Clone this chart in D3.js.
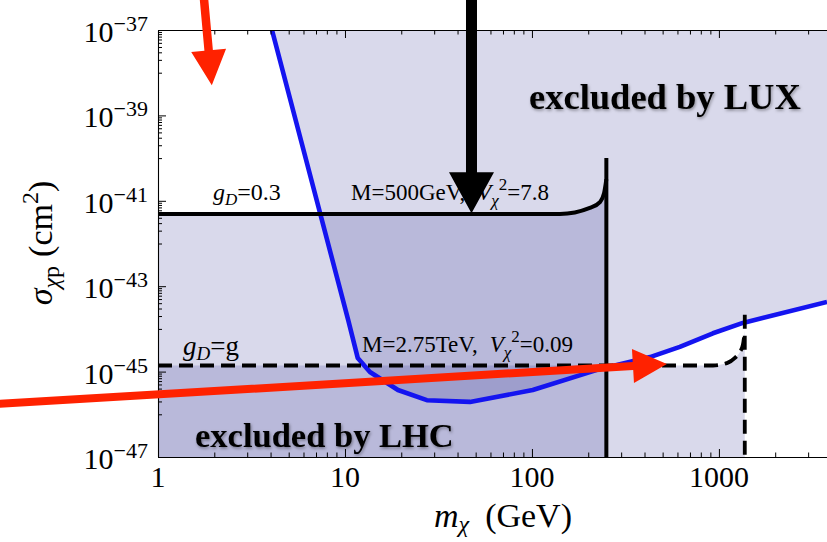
<!DOCTYPE html>
<html>
<head>
<meta charset="utf-8">
<script src="https://cdn.jsdelivr.net/npm/d3@7"></script>
<style>
  html, body { margin: 0; padding: 0; background: #fff; }
  svg { display: block; }
</style>
</head>
<body>
<script>
// ---------------- DATA ----------------
// LUX exclusion limit (blue curve): dark-matter mass (GeV) vs sigma (cm^2)
const luxMass  = [4.07, 10.4, 11.7, 13.6, 19.2, 27.4, 46.6, 101, 223, 428, 618, 929, 1343, 3785];
const luxSigma = [1e-37, 1.62e-44, 2.09e-45, 9.8e-46, 3.7e-46, 2.14e-46, 1.95e-46, 3.7e-46, 1.1e-45, 2.19e-45, 3.8e-45, 7.9e-45, 1.38e-44, 4.27e-44];

// LHC curve, g_D = 0.3, M = 500 GeV (solid)
const lhc1Mass  = [1, 141, 204, 231, 243, 248, 250];
const lhc1Sigma = [4.9e-42, 4.9e-42, 6.8e-42, 9.3e-42, 1.5e-41, 2.5e-41, 3.2e-41];
const lhc1Edge  = { mass: 250, sigmaTop: 1e-40 };

// LHC curve, g_D = g, M = 2.75 TeV (dashed)
const lhc2Mass  = [1, 929, 1104, 1218, 1295, 1343, 1375];
const lhc2Sigma = [1.39e-45, 1.39e-45, 1.58e-45, 2.09e-45, 2.88e-45, 4.2e-45, 9e-45];
const lhc2Edge  = { mass: 1375, sigmaTop: 2.14e-44 };

// axis ticks
const xTickValues = [1, 10, 100, 1000];
const xTickLabels = ["1", "10", "100", "1000"];
const yTickExps   = [-37, -39, -41, -43, -45, -47];
const yTickLabels = ["−37", "−39", "−41", "−43", "−45", "−47"];

// annotation arrows, in data coordinates [mass, sigma]
const arrowTopRed   = { from: [1.76, 5.6e-37], to: [1.94, 5.1e-39] };
const arrowBlack    = { from: [47.5, 5.6e-37], to: [47.5, 5.1e-42] };
const arrowLongRed  = { from: [0.138, 1.74e-46], to: [527, 1.51e-45] };

// ---------------- LAYOUT ----------------
const W = 827, H = 542;
const L = 158, T = 30, B = 457, R = 827;
const serif = "'Liberation Serif', 'Times New Roman', serif";

const x = d3.scaleLog().domain([1, 3785]).range([L, R]);
const y = d3.scaleLog().domain([1e-47, 1e-37]).range([B, T]);

const svg = d3.select("body").append("svg").attr("width", W).attr("height", H);
const defs = svg.append("defs");
defs.append("clipPath").attr("id", "plotclip")
  .append("rect").attr("x", L).attr("y", T).attr("width", R - L).attr("height", B - T);
const f = defs.append("filter").attr("id", "shadow")
  .attr("x", "-10%").attr("y", "-40%").attr("width", "120%").attr("height", "180%");
f.append("feDropShadow").attr("dx", 1).attr("dy", 1.5).attr("stdDeviation", 1.6)
  .attr("flood-color", "#000").attr("flood-opacity", 0.4);

const plot = svg.append("g").attr("clip-path", "url(#plotclip)");

const fillColor = "rgb(18,18,130)";
const fillOpacity = 0.16;

const pts = (ms, ss) => ms.map((m, i) => [x(m), y(ss[i])]);

// LUX region (above blue curve)
const luxPts = pts(luxMass, luxSigma);
const luxPoly = luxPts.concat([[x(luxMass[luxMass.length - 1]), y(1e-37)]]);
plot.append("path")
  .attr("d", d3.line()(luxPoly) + "Z")
  .attr("fill", fillColor).attr("fill-opacity", fillOpacity);

// LHC regions (below black curves)
const smooth = d3.line().curve(d3.curveMonotoneX);
const lhc1Pts = pts(lhc1Mass, lhc1Sigma);
plot.append("path")
  .attr("d", smooth(lhc1Pts) + `L${x(lhc1Edge.mass)},${y(1e-47)}L${x(1)},${y(1e-47)}Z`)
  .attr("fill", fillColor).attr("fill-opacity", fillOpacity);

const lhc2Pts = pts(lhc2Mass, lhc2Sigma);
plot.append("path")
  .attr("d", smooth(lhc2Pts) + `L${x(lhc2Edge.mass)},${y(1e-47)}L${x(1)},${y(1e-47)}Z`)
  .attr("fill", fillColor).attr("fill-opacity", fillOpacity);

// Blue LUX curve
plot.append("path")
  .attr("d", d3.line()(luxPts))
  .attr("fill", "none").attr("stroke", "#1414f0").attr("stroke-width", 4.6)
  .attr("stroke-linejoin", "round");

// Black solid curve + edge
plot.append("path").attr("d", smooth(lhc1Pts))
  .attr("fill", "none").attr("stroke", "#000").attr("stroke-width", 4);
plot.append("line")
  .attr("x1", x(lhc1Edge.mass)).attr("x2", x(lhc1Edge.mass))
  .attr("y1", y(lhc1Edge.sigmaTop)).attr("y2", y(1e-47))
  .attr("stroke", "#000").attr("stroke-width", 4);

// Black dashed curve + edge
plot.append("path").attr("d", smooth(lhc2Pts))
  .attr("fill", "none").attr("stroke", "#000").attr("stroke-width", 3.8)
  .attr("stroke-dasharray", "14,7");
plot.append("line")
  .attr("x1", x(lhc2Edge.mass)).attr("x2", x(lhc2Edge.mass))
  .attr("y1", y(lhc2Edge.sigmaTop)).attr("y2", y(1e-47))
  .attr("stroke", "#000").attr("stroke-width", 3.8)
  .attr("stroke-dasharray", "14,7");

// ---------------- AXES ----------------
const xMinor = [];
[1, 10, 100, 1000].forEach(d => { for (let k = 2; k <= 9; k++) if (k * d < 3785) xMinor.push(k * d); });
const yMinor = [];
[-38, -40, -42, -44, -46].forEach(e => { for (let k = 1; k <= 9; k++) yMinor.push(k * Math.pow(10, e)); });
const yMajor = yTickExps.map(e => Math.pow(10, e));

function styleAxis(g) {
  g.selectAll("path.domain").attr("stroke", "#000").attr("stroke-width", 1.1);
  g.selectAll(".tick line").attr("stroke", "#000").attr("stroke-width", 1);
  g.selectAll(".tick text").remove();
}
// bottom
svg.append("g").attr("transform", `translate(0,${B})`)
  .call(d3.axisBottom(x).tickValues(xTickValues).tickSizeInner(-8).tickSizeOuter(0)).call(styleAxis);
svg.append("g").attr("transform", `translate(0,${B})`)
  .call(d3.axisBottom(x).tickValues(xMinor).tickSizeInner(-4.5).tickSizeOuter(0)).call(styleAxis)
  .select("path.domain").remove();
// top
svg.append("g").attr("transform", `translate(0,${T})`)
  .call(d3.axisTop(x).tickValues(xTickValues).tickSizeInner(-8).tickSizeOuter(0)).call(styleAxis);
svg.append("g").attr("transform", `translate(0,${T})`)
  .call(d3.axisTop(x).tickValues(xMinor).tickSizeInner(-4.5).tickSizeOuter(0)).call(styleAxis)
  .select("path.domain").remove();
// left
svg.append("g").attr("transform", `translate(${L},0)`)
  .call(d3.axisLeft(y).tickValues(yMajor).tickSizeInner(-8).tickSizeOuter(0)).call(styleAxis);
svg.append("g").attr("transform", `translate(${L},0)`)
  .call(d3.axisLeft(y).tickValues(yMinor).tickSizeInner(-4).tickSizeOuter(0)).call(styleAxis)
  .select("path.domain").remove();

// x tick labels
svg.append("g").selectAll("text").data(xTickValues).join("text")
  .attr("x", d => x(d)).attr("y", B + 30)
  .attr("text-anchor", "middle")
  .attr("font-family", serif).attr("font-size", 30)
  .text((d, i) => xTickLabels[i]);

// y tick labels
yMajor.forEach((v, i) => {
  const t = svg.append("text").attr("x", L - 10).attr("y", y(v) + 12)
    .attr("text-anchor", "end").attr("font-family", serif).attr("font-size", 30);
  t.append("tspan").text("10");
  t.append("tspan").attr("font-size", 22).attr("dy", -11).text(yTickLabels[i]);
});

// rich text helper
function rich(parent, px, py, size, parts, anchor) {
  const t = parent.append("text").attr("x", px).attr("y", py)
    .attr("font-family", serif).attr("font-size", size)
    .attr("text-anchor", anchor || "start");
  let cur = 0;
  parts.forEach(p => {
    const shift = p.shift || 0;
    const ts = t.append("tspan").text(p.t).attr("dy", shift - cur);
    cur = shift;
    if (p.i) ts.attr("font-style", "italic");
    if (p.s) ts.attr("font-size", p.s);
    if (p.dx) ts.attr("dx", p.dx);
    if (p.b) ts.attr("font-weight", "bold");
  });
  return t;
}

// axis titles
rich(svg, 503, 527, 34, [
  { t: "m", i: true },
  { t: "χ", i: true, s: 24, shift: 5 },
  { t: "(GeV)", dx: 16, shift: 0 }
], "middle");

const yl = svg.append("g").attr("transform", `translate(52,243) rotate(-90)`);
rich(yl, 0, 0, 34, [
  { t: "σ", i: true },
  { t: "χ", i: true, s: 24, shift: 7 },
  { t: "p", s: 24, shift: 7 },
  { t: "(cm", dx: 9 },
  { t: "2", s: 24, shift: -14 },
  { t: ")" }
], "middle");

// curve labels
rich(svg, 213, 200, 24, [
  { t: "g", i: true },
  { t: "D", i: true, s: 17, shift: 5 },
  { t: "=0.3" }
]);
rich(svg, 351, 200, 23, [
  { t: "M=500GeV," },
  { t: "V", i: true, dx: 12 },
  { t: "χ", i: true, s: 17, shift: 6 },
  { t: "2", s: 17, shift: -10 },
  { t: "=7.8" }
]);
rich(svg, 183, 355, 27, [
  { t: "g", i: true },
  { t: "D", i: true, s: 19, shift: 5 },
  { t: "=g" }
]);
rich(svg, 362, 352, 23, [
  { t: "M=2.75TeV," },
  { t: "V", i: true, dx: 12 },
  { t: "χ", i: true, s: 17, shift: 6 },
  { t: "2", s: 17, shift: -10 },
  { t: "=0.09" }
]);

// region labels
svg.append("text").attr("x", 529).attr("y", 109)
  .attr("font-family", serif).attr("font-weight", "bold").attr("font-size", 36.5)
  .attr("filter", "url(#shadow)").text("excluded by LUX");
svg.append("text").attr("x", 195).attr("y", 447)
  .attr("font-family", serif).attr("font-weight", "bold").attr("font-size", 34.5)
  .attr("filter", "url(#shadow)").text("excluded by LHC");

// ---------------- ARROWS ----------------
function arrow(a, color, shaftW, headL, headW) {
  const p0 = [x(a.from[0]), y(a.from[1])];
  const p1 = [x(a.to[0]), y(a.to[1])];
  const dx = p1[0] - p0[0], dy = p1[1] - p0[1];
  const len = Math.hypot(dx, dy);
  const u = [dx / len, dy / len], n = [-u[1], u[0]];
  const b = [p1[0] - u[0] * headL, p1[1] - u[1] * headL];
  const P = (p, k) => [p[0] + n[0] * k, p[1] + n[1] * k];
  const poly = [P(p0, shaftW / 2), P(b, shaftW / 2), P(b, headW / 2), p1,
                P(b, -headW / 2), P(b, -shaftW / 2), P(p0, -shaftW / 2)];
  svg.append("path").attr("d", d3.line()(poly) + "Z").attr("fill", color);
}
arrow(arrowTopRed, "#ff2200", 8.5, 35, 35);
arrow(arrowBlack, "#000", 11, 41, 45);
arrow(arrowLongRed, "#ff2200", 8, 34, 34);
</script>
</body>
</html>
